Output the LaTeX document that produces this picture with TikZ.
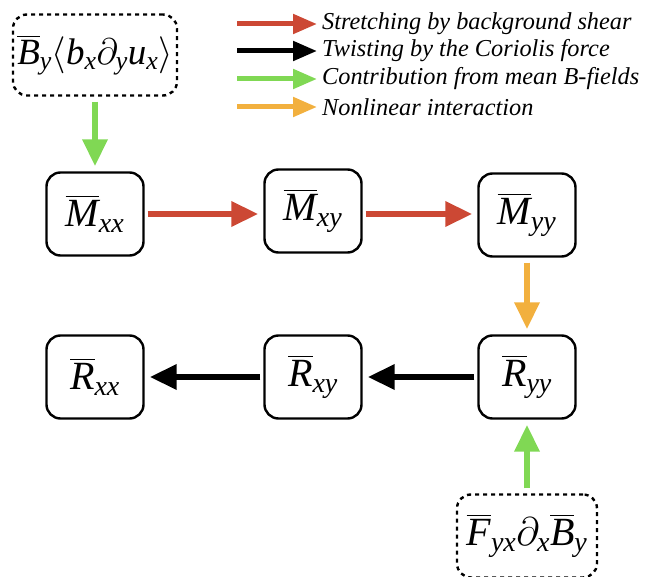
\documentclass[tikz,border=0pt]{standalone}
\usepackage{fix-cm}
\usepackage{amsmath}
\usepackage{fontspec}
\setmainfont{Liberation Serif}
\usetikzlibrary{arrows.meta}

\definecolor{shearred}{RGB}{204,72,52}
\definecolor{meangreen}{RGB}{128,216,84}
\definecolor{nlorange}{RGB}{242,176,62}
\newcommand{\tvar}[1]{\text{\itshape #1}}

\tikzset{
  termbox/.style={draw, line width=2.4pt, rounded corners=14pt, inner sep=0pt,
    minimum width=97pt, minimum height=83pt, font=\fontsize{40}{44}\selectfont},
  srcbox/.style={termbox, dash pattern=on 4pt off 4pt},
  flow/.style={line width=6.5pt, shorten <=5pt, shorten >=5pt,
    -{Triangle[length=27pt,width=24pt]}},
  keyarrow/.style={line width=5pt, shorten >=5pt, -{Triangle[length=24pt,width=19pt]}},
  keytext/.style={anchor=west, inner sep=0pt, font=\fontsize{24.3}{27}\selectfont\itshape},
}

\begin{document}
\begin{tikzpicture}[x=1pt,y=-1pt]
\useasboundingbox (0,0) rectangle (654,577);

% source terms
\node[srcbox, minimum width=164pt, minimum height=81pt, font=\fontsize{37}{40}\selectfont] (Bsrc) at (95,55)
  {$\overline{\tvar{B}}_{\tvar{y}}\langle\tvar{b}_{\tvar{x}}\partial_{\tvar{y}}\tvar{u}_{\tvar{x}}\rangle$};
\node[srcbox, minimum width=140pt] (Fsrc) at (527,536)
  {$\overline{\tvar{F}}_{\tvar{yx}}\partial_{\tvar{x}}\overline{\tvar{B}}_{\tvar{y}}$};

% Maxwell stresses
\node[termbox] (Mxx) at (95,214) {$\overline{\tvar{M}}_{\tvar{xx}}$};
\node[termbox] (Mxy) at (313,211) {$\overline{\tvar{M}}_{\tvar{xy}}$};
\node[termbox] (Myy) at (527,215) {$\overline{\tvar{M}}_{\tvar{yy}}$};

% Reynolds stresses
\node[termbox] (Rxx) at (95,377) {$\overline{\tvar{R}}_{\tvar{xx}}$};
\node[termbox] (Rxy) at (313,377) {$\overline{\tvar{R}}_{\tvar{xy}}$};
\node[termbox] (Ryy) at (527,377) {$\overline{\tvar{R}}_{\tvar{yy}}$};

\draw[flow, meangreen] (Bsrc) -- (Mxx);
\draw[flow, shearred, shorten <=3pt] (Mxx.east) -- (Mxx.east -| Mxy.west);
\draw[flow, shearred, shorten <=3pt] (Mxy.east |- Mxx.east) -- (Mxx.east -| Myy.west);
\draw[flow, nlorange] (Myy) -- (Ryy);
\draw[flow, black, shorten <=3pt] (Ryy) -- (Rxy);
\draw[flow, black, shorten <=3pt] (Rxy) -- (Rxx);
\draw[flow, meangreen] (Fsrc) -- (Ryy);

% legend
\node[keytext] (k1) at (322,24) {Stretching by background shear};
\node[keytext] (k2) at (322,51) {Twisting by the Coriolis force};
\node[keytext] (k3) at (322,79) {Contribution from mean B-fields};
\node[keytext] (k4) at (322,107) {Nonlinear interaction};
\coordinate (s1) at (237,24);
\coordinate (s2) at (237,51);
\coordinate (s3) at (237,79);
\coordinate (s4) at (237,107);
\draw[keyarrow, shearred] (s1) -- (k1.west);
\draw[keyarrow, black] (s2) -- (k2.west);
\draw[keyarrow, meangreen] (s3) -- (k3.west);
\draw[keyarrow, nlorange] (s4) -- (k4.west);
\end{tikzpicture}
\end{document}
